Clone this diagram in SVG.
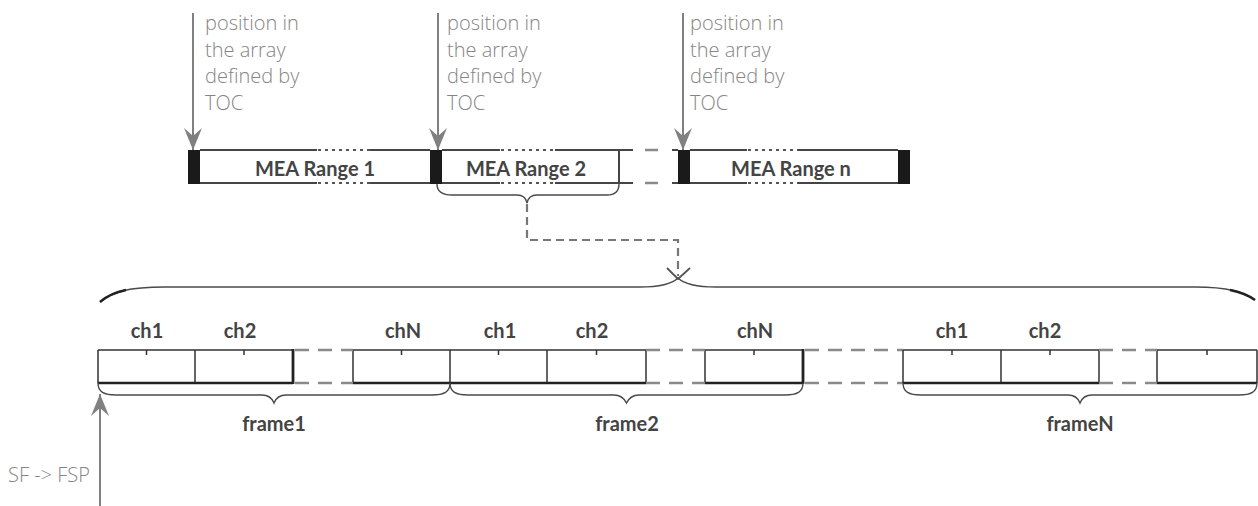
<svg xmlns="http://www.w3.org/2000/svg" width="1258" height="506" viewBox="0 0 1258 506">
  <style>
    .note { font-family: "Open Sans", "Liberation Sans", sans-serif; font-weight: 300; font-size: 20px; fill: #858585; }
    .lbl { font-family: Lato, "Liberation Sans", sans-serif; font-weight: 700; font-size: 20px; fill: #444; text-anchor: middle; }
    .ptr { stroke: #808080; stroke-width: 2; fill: none; }
    .bar { stroke: #454545; stroke-width: 2; fill: none; }
    .dot { stroke: #555; stroke-width: 2; stroke-dasharray: 3 4; fill: none; }
    .gap { stroke: #8a8a8a; stroke-width: 2.5; stroke-dasharray: 14 9; fill: none; }
    .blk { fill: #1a1a1a; }
    .cell { stroke: #333; stroke-width: 1.5; fill: none; }
    .base { stroke: #222; stroke-width: 2.5; fill: none; }
    .thick { stroke: #222; stroke-width: 2.8; fill: none; }
    .brace { stroke: #4a4a4a; stroke-width: 1.4; fill: none; }
    .link { stroke: #777; stroke-width: 2.2; stroke-dasharray: 8 5; fill: none; }
  </style>
  <defs>
    <marker id="head" viewBox="0 0 22 20" refX="22" refY="10" markerWidth="22" markerHeight="20" markerUnits="userSpaceOnUse" orient="auto">
      <path d="M22,10 L0,1 L8,10 L0,19 Z" fill="#808080"/>
    </marker>
  </defs>

  <!-- TOC pointers with notes -->
  <g id="toc1">
    <line class="ptr" x1="193" y1="13" x2="193" y2="150" marker-end="url(#head)"/>
    <text class="note"><tspan x="205" y="30">position in</tspan><tspan x="205" y="56.5">the array</tspan><tspan x="205" y="83">defined by</tspan><tspan x="205" y="109.5">TOC</tspan></text>
  </g>
  <g id="toc2">
    <line class="ptr" x1="438" y1="13" x2="438" y2="150" marker-end="url(#head)"/>
    <text class="note"><tspan x="447" y="30">position in</tspan><tspan x="447" y="56.5">the array</tspan><tspan x="447" y="83">defined by</tspan><tspan x="447" y="109.5">TOC</tspan></text>
  </g>
  <g id="toc3">
    <line class="ptr" x1="683" y1="13" x2="683" y2="150" marker-end="url(#head)"/>
    <text class="note"><tspan x="690" y="30">position in</tspan><tspan x="690" y="56.5">the array</tspan><tspan x="690" y="83">defined by</tspan><tspan x="690" y="109.5">TOC</tspan></text>
  </g>

  <!-- MEA range array -->
  <g id="range1">
    <rect class="blk" x="188" y="150" width="12" height="34"/>
    <path class="bar" d="M200,150 H317 M370,150 H430 M200,183 H317 M370,183 H430"/>
    <path class="dot" d="M318,150 H370 M318,183 H370"/>
    <text class="lbl" x="315" y="176">MEA Range 1</text>
  </g>
  <g id="range2">
    <rect class="blk" x="430" y="150" width="12" height="34"/>
    <path class="bar" d="M442,150 H500 M555,150 H633 M442,183 H500 M555,183 H633 M619,150 V184"/>
    <path class="dot" d="M501,150 H555 M501,183 H555"/>
    <text class="lbl" x="526" y="176">MEA Range 2</text>
    <path class="brace" d="M437,184 C437,192 442,195 452,195 L517,195 C522,195 526,198 527,203 C528,198 532,195 537,195 L607,195 C615,195 619,192 619,184"/>
  </g>
  <g id="range-gap">
    <path class="gap" d="M645,150 H658 M645,183 H658"/>
  </g>
  <g id="rangeN">
    <path class="bar" d="M672,150 H678 M672,183 H678"/>
    <rect class="blk" x="678" y="150" width="12" height="34"/>
    <path class="bar" d="M690,150 H747 M798,150 H898 M690,183 H747 M798,183 H898"/>
    <path class="dot" d="M748,150 H798 M748,183 H798"/>
    <rect class="blk" x="898" y="150" width="12" height="34"/>
    <text class="lbl" x="791" y="176">MEA Range n</text>
  </g>

  <!-- expansion of one range into frames -->
  <g id="connectors">
    <path class="link" d="M527,204 V240 H678 V276"/>
    <path d="M667,268 L678,279 L690,268" stroke="#555" stroke-width="1.8" fill="none"/>
    <path class="brace" stroke-width="1.2" d="M100,302 C112,292 128,287 165,287 L640,287 C660,287 672,284 678,278 C684,284 696,287 716,287 L1195,287 C1228,287 1244,292 1255,300"/>
    <path d="M100,302 C108,295 116,292 126,290" stroke="#222" stroke-width="2.4" fill="none"/>
    <path d="M1255,300 C1248,295 1240,292 1230,290" stroke="#222" stroke-width="2.4" fill="none"/>
  </g>

  <g id="frame1">
    <path class="cell" d="M98,350 H293 M98,350 V383 M195,350 V383 M353,350 H450 M353,350 V383 M450,350 V383"/>
    <path class="cell" d="M146.5,350 V355 M244,350 V355 M401.5,350 V355"/>
    <path class="base" d="M98,383 H293 M353,383 H450"/>
    <path class="thick" d="M293,349 V384"/>
    <text class="lbl" x="147" y="338">ch1</text>
    <text class="lbl" x="240" y="338">ch2</text>
    <text class="lbl" x="403" y="338">chN</text>
    <path class="brace" d="M98,383 C98,392 104,395 116,395 L262,395 C268,395 272,398 274,403 C276,398 280,395 286,395 L432,395 C444,395 450,392 450,383"/>
    <text class="lbl" x="274" y="431">frame1</text>
  </g>
  <path class="gap" d="M295,350 H353 M295,383 H353"/>

  <g id="frame2">
    <path class="cell" d="M450,350 H646 M547,350 V383 M646,350 V383 M705,350 H803 M705,350 V383"/>
    <path class="cell" d="M498.5,350 V355 M596.5,350 V355 M754,350 V355"/>
    <path class="base" d="M450,383 H646 M705,383 H803"/>
    <path class="thick" d="M803,349 V384"/>
    <text class="lbl" x="500" y="338">ch1</text>
    <text class="lbl" x="592" y="338">ch2</text>
    <text class="lbl" x="755" y="338">chN</text>
    <path class="brace" d="M450,383 C450,392 456,395 468,395 L614,395 C620,395 624,398 626.5,403 C629,398 633,395 639,395 L785,395 C797,395 803,392 803,383"/>
    <text class="lbl" x="627" y="431">frame2</text>
  </g>
  <path class="gap" d="M646,350 H705 M646,383 H705 M805,350 H903 M805,383 H903"/>

  <g id="frameN">
    <path class="cell" d="M903,350 H1099 M903,350 V383 M1001,350 V383 M1099,350 V383 M1157,350 H1257 M1157,350 V383 M1257,350 V383"/>
    <path class="cell" d="M952,350 V355 M1050,350 V355 M1207,350 V355"/>
    <path class="base" d="M903,383 H1099 M1157,383 H1257"/>
    <text class="lbl" x="952" y="338">ch1</text>
    <text class="lbl" x="1045" y="338">ch2</text>
    <path class="brace" d="M903,383 C903,392 909,395 921,395 L1068,395 C1074,395 1078,398 1080,403 C1082,398 1086,395 1092,395 L1239,395 C1251,395 1257,392 1257,383"/>
    <text class="lbl" x="1080" y="431">frameN</text>
  </g>
  <path class="gap" d="M1099,350 H1157 M1099,383 H1157"/>

  <!-- start of frame pointer -->
  <g id="sf-fsp">
    <line class="ptr" x1="100" y1="506" x2="100" y2="394" marker-end="url(#head)"/>
    <text class="note" x="8" y="482">SF -&gt; FSP</text>
  </g>
</svg>
